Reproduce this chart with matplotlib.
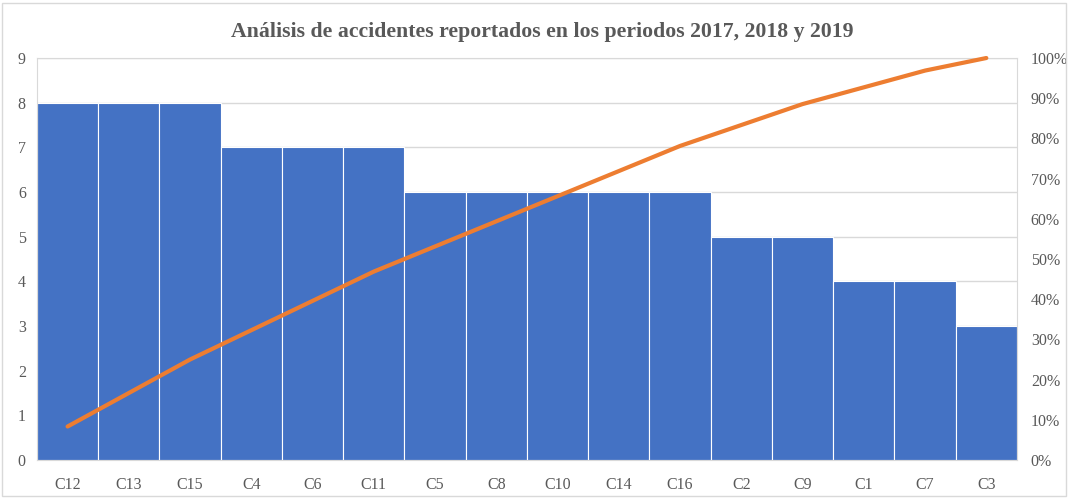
import numpy as np
import matplotlib.pyplot as plt
from matplotlib.ticker import PercentFormatter

# ─────── Data ───────
categories = ["C12", "C13", "C15", "C4", "C6", "C11", "C5", "C8", "C10",
              "C14", "C16", "C2", "C9", "C1", "C7", "C3"]
counts = [8, 8, 8, 7, 7, 7, 6, 6, 6, 6, 6, 5, 5, 4, 4, 3]

# cumulative share for the Pareto line
cum_pct = np.cumsum(counts) / np.sum(counts) * 100

plt.rcParams['font.family'] = ['Liberation Serif', 'DejaVu Serif']
text_color = '#595959'
grid_color = '#d9d9d9'

fig = plt.figure(figsize=(10.68, 4.98), dpi=100)
ax = fig.add_axes([0.0346, 0.0763, 0.9176, 0.8072])
x = np.arange(len(categories))

ax.bar(x, counts, width=1.0, color='#4472c4', edgecolor='white', linewidth=0.8, zorder=2)
ax.set_xlim(-0.5, len(categories) - 0.5)
ax.set_ylim(0, 9)
ax.set_yticks(range(0, 10))
ax.set_xticks(x)
ax.set_xticklabels(categories)
ax.grid(axis='y', color=grid_color, linewidth=1, zorder=0)
ax.tick_params(length=0, colors=text_color, labelsize=11.5, pad=8)
ax.tick_params(axis='x', pad=12)
for s in ax.spines.values():
    s.set_color(grid_color)

ax2 = ax.twinx()
ax2.plot(x, cum_pct, color='#ed7d31', linewidth=3, solid_capstyle='round',
         zorder=3, clip_on=False)
ax2.set_ylim(0, 100)
ax2.set_yticks(range(0, 101, 10))
ax2.yaxis.set_major_formatter(PercentFormatter(decimals=0))
ax2.tick_params(length=0, colors=text_color, labelsize=11.5, pad=10)
for s in ax2.spines.values():
    s.set_visible(False)

fig.text(0.508, 0.936, "Análisis de accidentes reportados en los periodos 2017, 2018 y 2019",
         ha='center', va='center', fontsize=15.7, fontweight='bold', color=text_color)

# outer border
fig.patches.append(plt.Rectangle((0.002, 0.004), 0.996, 0.99, transform=fig.transFigure,
                                 fill=False, edgecolor=grid_color, linewidth=1))

fig.savefig("out.png", dpi=100)
